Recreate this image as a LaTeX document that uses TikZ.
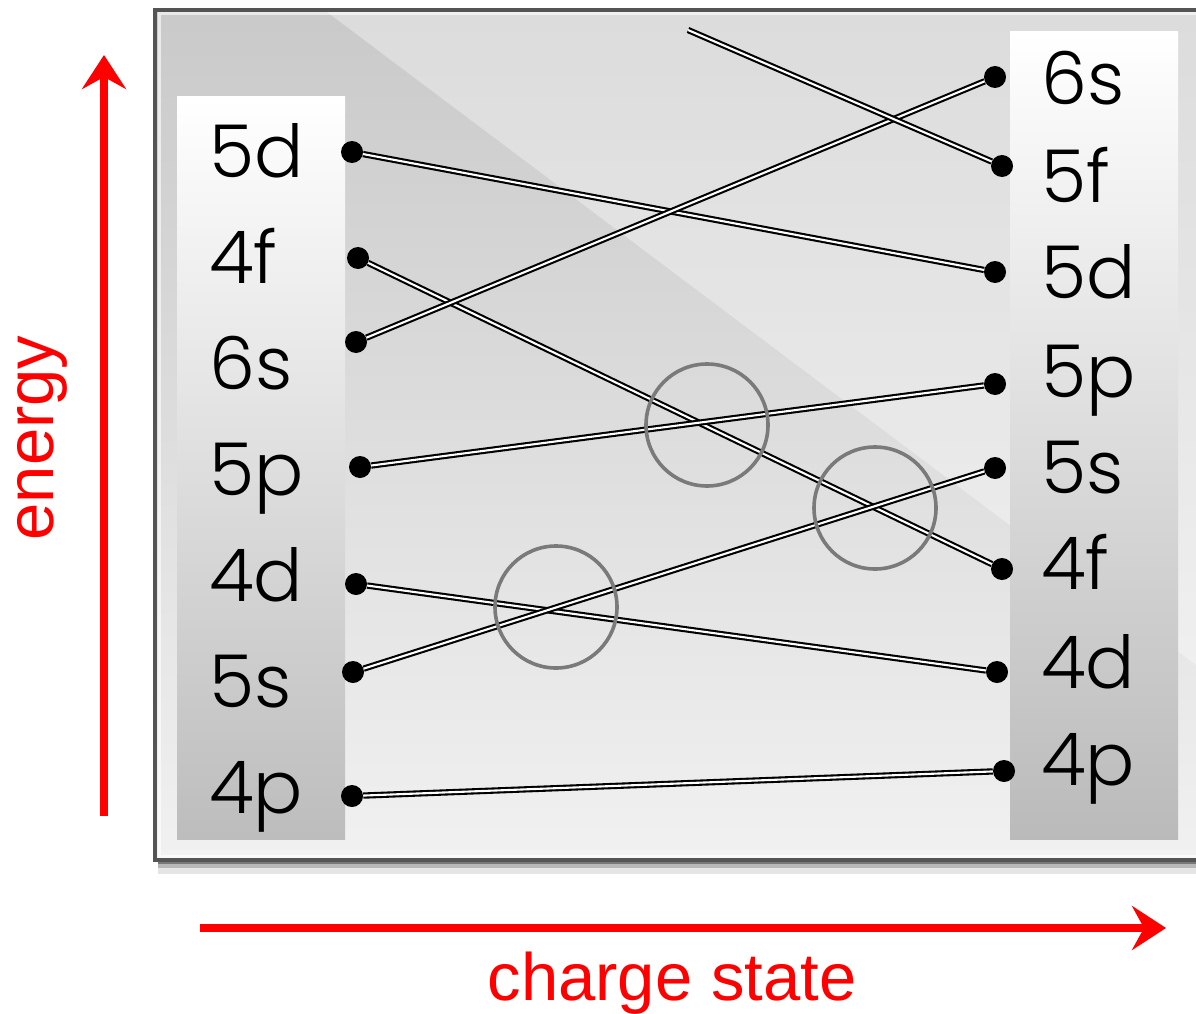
\documentclass[tikz,border=0pt]{standalone}
\usepackage{fontspec}
\usetikzlibrary{arrows.meta}
\IfFontExistsTF{Poppins Light}{\newfontfamily\orbfam{Poppins Light}}{\newfontfamily\orbfam{Poppins}}
\newfontfamily\axfam{Liberation Sans}
\newcommand\orbfont{\orbfam\fontsize{73}{73}\selectfont}
\newcommand\axfont{\axfam\fontsize{67}{67}\selectfont}
\definecolor{bgtop}{gray}{0.79}
\definecolor{bgbot}{gray}{0.945}
\definecolor{framec}{gray}{0.33}
\definecolor{ringc}{gray}{0.48}
\begin{document}
\begin{tikzpicture}[x=1pt,y=-1pt,
  dot/.style={circle,fill=black,inner sep=0pt,minimum size=22pt},
  lvl/.style={font=\orbfont,inner sep=0pt,anchor=base west},
  link/.style={draw=black,double=white,line width=2.1pt,double distance=2.1pt},
  ring/.style={draw=ringc,line width=3.6pt},
  axis/.style={draw=red,line width=8pt,-{Stealth[length=34pt,width=44pt,inset=12pt]}},
  axlabel/.style={font=\axfont,text=red,inner sep=0pt}]
\useasboundingbox (0,0) rectangle (1196,1014);
\begin{scope}
\clip (0,0) rectangle (1196,1014);
% shadow
\fill[black,opacity=0.10] (158,858) rectangle (1200,874);
\fill[black,opacity=0.20] (158,858) rectangle (1200,868);
\fill[black,opacity=0.35] (158,858) rectangle (1200,864);
% background
\shade[top color=bgtop,bottom color=bgbot] (155,10) rectangle (1200,860);
\fill[white,opacity=0.35] (327,12) -- (1200,12) -- (1200,668) -- cycle;
\draw[white,opacity=0.6,line width=3pt] (159,14) rectangle (1200,856);
\draw[framec,line width=4.5pt] (155,10) rectangle (1200,860);
% panels
\shade[top color=white,middle color=white!97!black,bottom color=white!74!black] (177,97) rectangle (345,839);
\shade[top color=white,middle color=white!96!black,bottom color=white!73!black] (1010,32) rectangle (1178,839);
\end{scope}
% left labels
\node[lvl] (t5d) at (209,177) {5d};
\node[lvl] (t4f) at (209,283) {4f};
\node[lvl] (t6s) at (209,389) {6s};
\node[lvl] (t5p) at (209,495) {5p};
\node[lvl] (t4d) at (209,601) {4d};
\node[lvl] (t5s) at (209,707) {5s};
\node[lvl] (t4p) at (209,813) {4p};
% right labels
\node[lvl] (u6s) at (1041,105) {6s};
\node[lvl] (u5f) at (1041,202) {5f};
\node[lvl] (u5d) at (1041,298) {5d};
\node[lvl] (u5p) at (1041,397) {5p};
\node[lvl] (u5s) at (1041,493) {5s};
\node[lvl] (u4f) at (1041,589) {4f};
\node[lvl] (u4d) at (1041,688) {4d};
\node[lvl] (u4p) at (1041,785) {4p};
% left dots
\node[dot] (l5d) at (352,152) {};
\node[dot] (l4f) at (358,258) {};
\node[dot] (l6s) at (356,342) {};
\node[dot] (l5p) at (360,467) {};
\node[dot] (l4d) at (356,584) {};
\node[dot] (l5s) at (353,672) {};
\node[dot] (l4p) at (352,796) {};
% right dots
\node[dot] (r6s) at (995,77) {};
\node[dot] (r5f) at (1002,166) {};
\node[dot] (r5d) at (995,272) {};
\node[dot] (r5p) at (995,384) {};
\node[dot] (r5s) at (995,468) {};
\node[dot] (r4f) at (1002,569) {};
\node[dot] (r4d) at (997,672) {};
\node[dot] (r4p) at (1004,771) {};
\coordinate (free) at (688,30);
% links
\draw[link] (l5d) -- (r5d);
\draw[link] (l4f) -- (r4f);
\draw[link] (l6s) -- (r6s);
\draw[link] (l5p) -- (r5p);
\draw[link] (l4d) -- (r4d);
\draw[link] (l5s) -- (r5s);
\draw[link] (l4p) -- (r4p);
\draw[link] (free) -- (r5f);
% rings
\node[ring,circle,minimum size=122pt,inner sep=0pt] (c1) at (707,425) {};
\node[ring,circle,minimum size=122pt,inner sep=0pt] (c2) at (875,508) {};
\node[ring,circle,minimum size=122pt,inner sep=0pt] (c3) at (556,607) {};
% axes
\coordinate (ea) at (104,816);
\coordinate (eb) at (104,55);
\coordinate (ca) at (200,928);
\coordinate (cb) at (1166,928);
\draw[axis] (ea) -- (eb);
\draw[axis] (ca) -- (cb);
\node[axlabel,rotate=90] (energy) at (42,438) {energy};
\node[axlabel,anchor=base] (charge) at (672,1000) {charge state};
\end{tikzpicture}
\end{document}
